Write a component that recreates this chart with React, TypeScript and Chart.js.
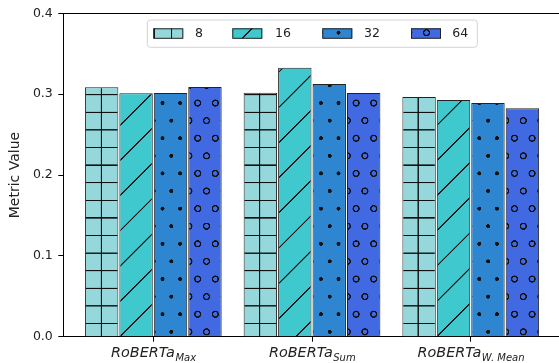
import { useEffect, useRef } from "react";
import { Chart, registerables } from "chart.js";

Chart.register(...registerables);

// ---- data ----
const groupBase = "RoBERTa";
const groupSubs = ["Max", "Sum", "W. Mean"];
const groupPositions = [0, 1, 2];
const seriesLabels = ["8", "16", "32", "64"];
const values8 = [0.3085, 0.3018, 0.2965];
const values16 = [0.301, 0.3327, 0.2928];
const values32 = [0.3014, 0.3126, 0.289];
const values64 = [0.3088, 0.3014, 0.2825];
const yTicks = [0.0, 0.1, 0.2, 0.3, 0.4];
const yTitle = "Metric Value";

const seriesValues = [values8, values16, values32, values64];
const seriesColors = ["#95d8dc", "#3fc9cf", "#2e86d0", "#4169e1"];
const seriesHatch = ["+", "/", ".", "o"];

const FONT = '"DejaVu Sans", "Liberation Sans", sans-serif';
const S = 17.6; // hatch cell size (px)

function makePattern(type: string, color: string): CanvasPattern {
  const T = 141;
  const k = T / (2 * S);
  const c = document.createElement("canvas");
  c.width = T;
  c.height = T;
  const g = c.getContext("2d")!;
  g.fillStyle = color;
  g.fillRect(0, 0, T, T);
  g.scale(k, k);
  g.strokeStyle = "#111";
  g.fillStyle = "#111";
  g.lineWidth = 1.25;
  let offX = 0;
  let offY = 0;
  const dotPts = [
    [S / 2, S / 2],
    [(3 * S) / 2, S / 2],
    [S, (3 * S) / 2],
    [0, (3 * S) / 2],
    [2 * S, (3 * S) / 2],
  ];
  if (type === "+") {
    g.beginPath();
    for (const p of [S / 2, (3 * S) / 2]) {
      g.moveTo(p, -1);
      g.lineTo(p, 2 * S + 1);
      g.moveTo(-1, p);
      g.lineTo(2 * S + 1, p);
    }
    g.stroke();
    offX = 101.3 - S / 2;
    offY = 182.7 - S / 2;
  } else if (type === "/") {
    g.beginPath();
    for (const s of [0, 2 * S, 4 * S]) {
      g.moveTo(s - 2 * S - 2, 2 * S + 2);
      g.lineTo(s + 2, -2);
    }
    g.stroke();
    offX = 0;
    offY = 315.7 - 2 * S;
  } else if (type === ".") {
    for (const [x, y] of dotPts) {
      g.beginPath();
      g.arc(x, y, 2.0, 0, Math.PI * 2);
      g.fill();
    }
    offX = 171.3 - S / 2;
    offY = 191 - S / 2;
  } else {
    g.lineWidth = 1.35;
    for (const [x, y] of dotPts) {
      g.beginPath();
      g.arc(x, y, 2.9, 0, Math.PI * 2);
      g.stroke();
    }
    offX = 171.3 - S / 2;
    offY = 191 - S / 2;
  }
  const pat = document.createElement("canvas").getContext("2d")!.createPattern(c, "repeat")!;
  const m = new DOMMatrix().translateSelf(offX, offY).scaleSelf(1 / k, 1 / k);
  pat.setTransform(m);
  return pat;
}

export default function App() {
  const ref = useRef<HTMLCanvasElement | null>(null);

  useEffect(() => {
    const canvas = ref.current;
    if (!canvas) return;
    const patterns = seriesHatch.map((h, i) => makePattern(h, seriesColors[i]));

    const legendLayout = [
      { px: 153.3, tx: 195 },
      { px: 232.3, tx: 275 },
      { px: 322.3, tx: 364 },
      { px: 411, tx: 452.3 },
    ];

    const decor = {
      id: "decor",
      afterDraw(chart: any) {
        const ctx = chart.ctx as CanvasRenderingContext2D;
        const area = chart.chartArea;
        const xs = chart.scales.x;
        ctx.save();
        // top spine
        ctx.strokeStyle = "#000";
        ctx.lineWidth = 1;
        ctx.beginPath();
        const ty = Math.round(area.top) + 0.5;
        ctx.moveTo(area.left, ty);
        ctx.lineTo(area.right, ty);
        ctx.stroke();

        // x labels with subscripts
        ctx.fillStyle = "#222";
        ctx.textBaseline = "alphabetic";
        ctx.textAlign = "left";
        const mainFont = `italic 14.4px ${FONT}`;
        const subFont = `italic 10px ${FONT}`;
        groupPositions.forEach((gp, i) => {
          const cx = xs.getPixelForValue(gp);
          ctx.font = mainFont;
          const w1 = ctx.measureText(groupBase).width;
          ctx.font = subFont;
          const w2 = ctx.measureText(groupSubs[i]).width;
          const x0 = cx - (w1 + w2) / 2;
          ctx.font = mainFont;
          ctx.fillText(groupBase, x0, 357.3);
          ctx.font = subFont;
          ctx.fillText(groupSubs[i], x0 + w1 + 0.5, 360.8);
        });

        // legend
        const lx = 147.3, ly = 20, lw = 330, lh = 27.3, r = 3;
        ctx.beginPath();
        ctx.moveTo(lx + r, ly);
        ctx.lineTo(lx + lw - r, ly);
        ctx.arcTo(lx + lw, ly, lx + lw, ly + r, r);
        ctx.lineTo(lx + lw, ly + lh - r);
        ctx.arcTo(lx + lw, ly + lh, lx + lw - r, ly + lh, r);
        ctx.lineTo(lx + r, ly + lh);
        ctx.arcTo(lx, ly + lh, lx, ly + lh - r, r);
        ctx.lineTo(lx, ly + r);
        ctx.arcTo(lx, ly, lx + r, ly, r);
        ctx.closePath();
        ctx.fillStyle = "rgba(255,255,255,0.8)";
        ctx.fill();
        ctx.strokeStyle = "#d4d4d4";
        ctx.lineWidth = 1;
        ctx.stroke();
        seriesLabels.forEach((lab, i) => {
          const p = legendLayout[i];
          ctx.fillStyle = patterns[i];
          ctx.fillRect(p.px, 28.3, 30, 10);
          ctx.strokeStyle = "#222";
          ctx.lineWidth = 1;
          ctx.strokeRect(p.px + 0.5, 28.8, 29, 9.5);
          ctx.fillStyle = "#222";
          ctx.font = `12.5px ${FONT}`;
          ctx.textBaseline = "middle";
          ctx.fillText(lab, p.tx, 33.6);
        });
        ctx.restore();
      },
    };

    const chart = new Chart(canvas, {
      type: "bar",
      data: {
        datasets: seriesValues.map((vals, i) => ({
          label: seriesLabels[i],
          data: vals.map((v, j) => ({ x: groupPositions[j], y: v })),
          backgroundColor: patterns[i],
          borderColor: "#222",
          borderWidth: 1,
          categoryPercentage: 0.868,
          barPercentage: 0.97,
        })),
      },
      options: {
        animation: false,
        responsive: false,
        devicePixelRatio: 1,
        layout: { padding: { top: 13.3, right: 0, bottom: 0, left: 0 } },
        plugins: { legend: { display: false }, tooltip: { enabled: false } },
        scales: {
          x: {
            type: "linear",
            min: -0.567,
            max: 2.556,
            offset: false,
            afterBuildTicks: (s: any) => {
              s.ticks = groupPositions.map((v) => ({ value: v }));
            },
            afterFit: (s: any) => {
              s.height = 26.3;
            },
            ticks: { display: false },
            grid: {
              display: true,
              offset: false,
              drawOnChartArea: false,
              drawTicks: true,
              tickLength: 5,
              color: "#000",
            },
            border: { display: true, color: "#000", width: 1 },
          },
          y: {
            type: "linear",
            min: 0,
            max: 0.4,
            afterBuildTicks: (s: any) => {
              s.ticks = yTicks.map((v) => ({ value: v }));
            },
            afterFit: (s: any) => {
              s.width = 63.3;
            },
            ticks: {
              callback: (v: any) => Number(v).toFixed(1),
              font: { family: FONT, size: 12.5 },
              color: "#222",
              padding: 5.5,
            },
            grid: {
              display: true,
              drawOnChartArea: false,
              drawTicks: true,
              tickLength: 5,
              color: "#000",
            },
            border: { display: true, color: "#000", width: 1 },
            title: {
              display: true,
              text: yTitle,
              font: { family: FONT, size: 14 },
              color: "#222",
              padding: { top: 7, bottom: 0 },
            },
          },
        },
      },
      plugins: [decor],
    } as any);

    return () => chart.destroy();
  }, []);

  return (
    <div style={{ position: "fixed", left: 0, top: 0, width: 559, height: 363, background: "#fff" }}>
      <canvas ref={ref} width={559} height={363} style={{ display: "block", width: 559, height: 363 }} />
    </div>
  );
}
